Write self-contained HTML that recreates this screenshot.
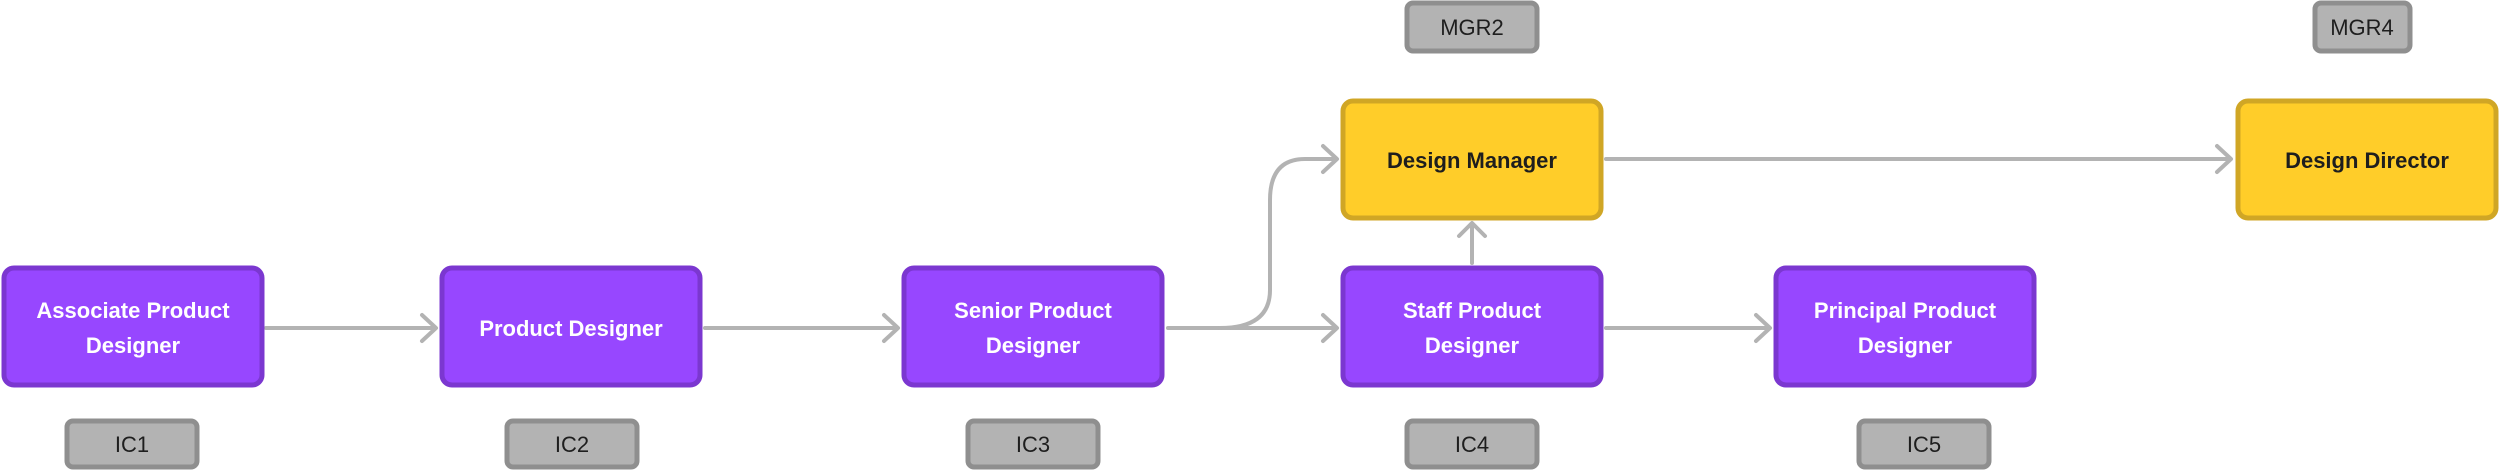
<!DOCTYPE html>
<html><head><meta charset="utf-8"><style>
html,body{margin:0;padding:0;background:#fff;}
svg{display:block;}
text{font-family:"Liberation Sans",sans-serif;}
.n{font-weight:bold;font-size:22px;text-anchor:middle;}
.t{font-size:22px;text-anchor:middle;fill:#1e1e1e;}
</style></head><body>
<svg width="2500" height="471" viewBox="0 0 2500 471" xmlns="http://www.w3.org/2000/svg">
<g fill="none" stroke="#b3b3b3" stroke-width="4" stroke-linecap="round" stroke-linejoin="round">
  <path d="M266 328 H434 M422 315 L436 328 L422 341"/>
  <path d="M705 328 H896 M884 315 L898 328 L884 341"/>
  <path d="M1168 328 H1335 M1323 315 L1337 328 L1323 341"/>
  <path d="M1220 328 Q1270 328 1270 290 V200 Q1270 159 1305 159 H1335 M1323 146 L1337 159 L1323 172"/>
  <path d="M1472 263 V224 M1459 236 L1472 223 L1485 236"/>
  <path d="M1606 328 H1768 M1756 315 L1770 328 L1756 341"/>
  <path d="M1606 159 H2229 M2217 146 L2231 159 L2217 172"/>
</g>
<g stroke-width="5">
  <rect x="4" y="268" width="258" height="117" rx="10" fill="#9747ff" stroke="#7b37d0"/>
  <rect x="442" y="268" width="258" height="117" rx="10" fill="#9747ff" stroke="#7b37d0"/>
  <rect x="904" y="268" width="258" height="117" rx="10" fill="#9747ff" stroke="#7b37d0"/>
  <rect x="1343" y="268" width="258" height="117" rx="10" fill="#9747ff" stroke="#7b37d0"/>
  <rect x="1776" y="268" width="258" height="117" rx="10" fill="#9747ff" stroke="#7b37d0"/>
  <rect x="1343" y="101" width="258" height="117" rx="10" fill="#ffcd29" stroke="#d0a625"/>
  <rect x="2238" y="101" width="258" height="117" rx="10" fill="#ffcd29" stroke="#d0a625"/>
  <rect x="67" y="421" width="130" height="46" rx="6" fill="#b3b3b3" stroke="#8f8f8f"/>
  <rect x="507" y="421" width="130" height="46" rx="6" fill="#b3b3b3" stroke="#8f8f8f"/>
  <rect x="968" y="421" width="130" height="46" rx="6" fill="#b3b3b3" stroke="#8f8f8f"/>
  <rect x="1407" y="421" width="130" height="46" rx="6" fill="#b3b3b3" stroke="#8f8f8f"/>
  <rect x="1859" y="421" width="130" height="46" rx="6" fill="#b3b3b3" stroke="#8f8f8f"/>
  <rect x="1407" y="3" width="130" height="48" rx="6" fill="#b3b3b3" stroke="#8f8f8f"/>
  <rect x="2315" y="3" width="95" height="48" rx="6" fill="#b3b3b3" stroke="#8f8f8f"/>
</g>
<g class="n" fill="#fff">
  <text class="n" x="133" y="318">Associate Product</text>
  <text class="n" x="133" y="353">Designer</text>
  <text class="n" x="571" y="336">Product Designer</text>
  <text class="n" x="1033" y="318">Senior Product</text>
  <text class="n" x="1033" y="353">Designer</text>
  <text class="n" x="1472" y="318">Staff Product</text>
  <text class="n" x="1472" y="353">Designer</text>
  <text class="n" x="1905" y="318">Principal Product</text>
  <text class="n" x="1905" y="353">Designer</text>
</g>
<text class="n" x="1472" y="168" fill="#1e1e1e">Design Manager</text>
<text class="n" x="2367" y="168" fill="#1e1e1e">Design Director</text>
<text class="t" x="132" y="452">IC1</text>
<text class="t" x="572" y="452">IC2</text>
<text class="t" x="1033" y="452">IC3</text>
<text class="t" x="1472" y="452">IC4</text>
<text class="t" x="1924" y="452">IC5</text>
<text class="t" x="1472" y="35">MGR2</text>
<text class="t" x="2362" y="35">MGR4</text>
</svg>
</body></html>
